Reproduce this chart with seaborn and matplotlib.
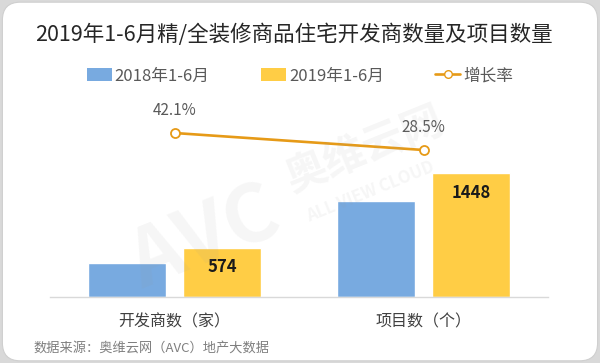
import matplotlib
matplotlib.use("Agg")
import matplotlib.pyplot as plt
from matplotlib.patches import Patch, FancyBboxPatch
from matplotlib.lines import Line2D
import pandas as pd
import seaborn as sns

# data
categories = ["开发商数（家）", "项目数（个）"]
periods = ["2018年1-6月", "2019年1-6月"]
values_2018 = [404, 1127]
values_2019 = [574, 1448]
growth = [0.421, 0.285]
growth_labels = ["42.1%", "28.5%"]

title = "2019年1-6月精/全装修商品住宅开发商数量及项目数量"
source = "数据来源：奥维云网（AVC）地产大数据"

blue = "#78AAE0"
yellow = "#FFCD45"
orange = "#E69A17"

sns.set_style("white")
plt.rcParams["font.family"] = ["Noto Sans CJK SC", "DejaVu Sans"]

df = pd.DataFrame({
    "category": categories * 2,
    "period": [periods[0]] * 2 + [periods[1]] * 2,
    "value": values_2018 + values_2019,
})

fig = plt.figure(figsize=(6, 3.63), dpi=100)
fig.patch.set_facecolor("#d9d9d9")
card = FancyBboxPatch((0.004, 0.006), 0.992, 0.988, boxstyle="round,pad=0,rounding_size=0.03",
                      transform=fig.transFigure, facecolor="white", edgecolor="#cfcfcf",
                      linewidth=0.8, mutation_aspect=600 / 363, zorder=-5)
fig.patches.append(card)

ax = fig.add_axes([50 / 600, 66 / 363, 498 / 600, 187 / 363])
ax.set_facecolor("none")
sns.barplot(data=df, x="category", y="value", hue="period", palette=[blue, yellow],
            width=0.763, gap=0.18, saturation=1, legend=False, ax=ax, zorder=2)
ax.set_xlim(-0.5, 1.5)
ax.set_ylim(0, 2190)

# value labels only on the 2019 bars
for bar, v in zip(ax.containers[1], values_2019):
    ax.annotate(str(v), (bar.get_x() + bar.get_width() / 2, bar.get_height()),
                xytext=(0, -14), textcoords="offset points", ha="center", va="center",
                fontsize=12, fontweight="bold", color="#1a1a1a", zorder=5)

ax2 = ax.twinx()
sns.lineplot(x=categories, y=growth, ax=ax2, color=orange, linewidth=1.9, marker="o",
             markersize=6.5, markerfacecolor="white", markeredgecolor=orange,
             markeredgewidth=1.3, zorder=4)
ax2.set_ylim(-0.891, 0.605)
for c, g, lab in zip(categories, growth, growth_labels):
    ax2.annotate(lab, (c, g), xytext=(0, 16), textcoords="offset points",
                 ha="center", va="center", fontsize=11, color="#595959")

for a in (ax, ax2):
    a.set_xlabel("")
    a.set_ylabel("")
    a.set_yticks([])
    for s in ("top", "left", "right"):
        a.spines[s].set_visible(False)
ax2.spines["bottom"].set_visible(False)
ax.spines["bottom"].set_color("#d9d9d9")
ax.spines["bottom"].set_linewidth(1)
ax.tick_params(axis="x", length=0, pad=12, labelsize=11.5, labelcolor="#404040")

handles = [
    Patch(facecolor=blue, edgecolor="none"),
    Patch(facecolor=yellow, edgecolor="none"),
    Line2D([0], [0], color=orange, linewidth=1.9, marker="o", markersize=5.5,
           markerfacecolor="white", markeredgecolor=orange),
]
fig.legend(handles, periods + ["增长率"], loc="center", bbox_to_anchor=(0.5, 1 - 76 / 363),
           ncol=3, frameon=False, fontsize=12, labelcolor="#595959",
           handlelength=1.5, handleheight=0.8, handletextpad=0.15, columnspacing=3.1)

fig.text(0.49, 1 - 35 / 363, title, ha="center", va="center", fontsize=15.5, color="#262626")
fig.text(33 / 600, 1 - 348 / 363, source, ha="left", va="center", fontsize=9.5, color="#7f7f7f")

# faint watermark
wm = dict(color="#9a9a9a", alpha=0.09, rotation=22, ha="center", va="center",
          fontweight="bold", zorder=10)
fig.text(205 / 600, 1 - 238 / 363, "AVC", fontsize=58, style="italic", **wm)
fig.text(365 / 600, 1 - 150 / 363, "奥维云网", fontsize=30, **wm)
fig.text(370 / 600, 1 - 192 / 363, "ALL VIEW CLOUD", fontsize=12, **wm)

fig.savefig("out.png", dpi=100, facecolor=fig.get_facecolor())
